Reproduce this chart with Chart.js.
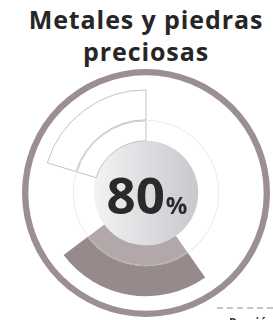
<!DOCTYPE html>
<html>
<head>
<meta charset="utf-8">
<script src="https://cdn.jsdelivr.net/npm/chart.js@4.4.1/dist/chart.umd.min.js"></script>
<style>
  html, body { margin: 0; padding: 0; background: #ffffff; overflow: hidden; }
  #wrap { position: relative; width: 273px; height: 320px; overflow: hidden; background: #fff; }
  canvas { position: absolute; left: 0; top: 0; }
  #title {
    position: absolute; left: 19px; top: 3px; width: 254px; text-align: center;
    font-family: "Open Sans", sans-serif; font-weight: 700; font-size: 25px;
    line-height: 32px; letter-spacing: 0.9px; color: #262626; white-space: nowrap;
  }
  #dash { position: absolute; left: 217px; top: 307px; width: 56px; border-top: 2px dashed #c6c6c6; }
  #foot { position: absolute; left: 229px; top: 315px; width: 44px; height: 5px; overflow: hidden;
    font-family: "Open Sans", sans-serif; font-weight: 700; font-size: 12px; line-height: 16px;
    color: #333; white-space: nowrap; }
</style>
</head>
<body>
<div id="wrap">
  <div id="title">Metales y piedras<br>preciosas</div>
  <canvas id="main" width="273" height="320"></canvas>
  <div id="dash"></div>
  <div id="foot">Porción</div>
</div>
<script>
// ---- data ----
const valueLabel = ["80", "%"];
const percentValue = [80];
// decorative sectors (degrees, clockwise from top):
// before, highlighted wedge, gap, outlined sector
const wedgeSegments = [145, 88, 54, 73];
const fullCircle = [360];

const T = 'rgba(0,0,0,0)';
const ringColor = '#9b8f90';
const darkColor = '#968a8b';
const lightColor = '#b2a8a9';
const faintColor = '#ececec';
const outlineColor = '#c2c2c2';

const canvas = document.getElementById('main');
const gctx = canvas.getContext('2d');
const diskFill = gctx.createLinearGradient(94, 0, 198, 0);
diskFill.addColorStop(0, '#f3f3f5');
diskFill.addColorStop(1, '#c8c8cd');

const centerText = {
  id: 'centerText',
  afterDraw(chart) {
    const { ctx, chartArea } = chart;
    const cx = (chartArea.left + chartArea.right) / 2;
    const cy = (chartArea.top + chartArea.bottom) / 2;
    ctx.save();
    ctx.fillStyle = '#2a2a2a';
    ctx.textBaseline = 'alphabetic';
    ctx.font = '700 51px "Open Sans"';
    const w1 = ctx.measureText(valueLabel[0]).width;
    ctx.font = '700 24px "Open Sans"';
    const w2 = ctx.measureText(valueLabel[1]).width;
    const gap = 1;
    const x0 = cx - (w1 + gap + w2) / 2 + 1;
    ctx.font = '700 51px "Open Sans"';
    ctx.fillText(valueLabel[0], x0, cy + 21);
    ctx.font = '700 24px "Open Sans"';
    ctx.fillText(valueLabel[1], x0 + w1 + gap, cy + 21);
    ctx.restore();
  }
};

new Chart(canvas, {
  type: 'doughnut',
  data: {
    datasets: [
      { data: fullCircle, backgroundColor: [ringColor], borderWidth: 0, weight: 6.3 },
      { data: fullCircle, backgroundColor: [T], borderWidth: 0, weight: 14.5 },
      { data: wedgeSegments, backgroundColor: [T, darkColor, T, T],
        borderColor: [T, T, T, outlineColor], borderWidth: [0, 0, 0, 1], borderJoinStyle: 'miter', weight: 30 },
      { data: wedgeSegments, backgroundColor: [faintColor, lightColor, faintColor, faintColor], borderWidth: 0, weight: 1 },
      { data: wedgeSegments, backgroundColor: [T, lightColor, T, T],
        borderColor: [T, T, T, outlineColor], borderWidth: [0, 0, 0, 1], borderJoinStyle: 'miter', weight: 20 },
      { data: fullCircle, backgroundColor: [diskFill], borderWidth: 0, weight: 52.2 }
    ]
  },
  options: {
    responsive: false, animation: false, radius: 124, cutout: 0, hoverOffset: 0,
    layout: { padding: { left: 22, right: 3, top: 69, bottom: 3 } },
    plugins: { legend: { display: false } }
  },
  plugins: [centerText]
});
</script>
</body>
</html>
